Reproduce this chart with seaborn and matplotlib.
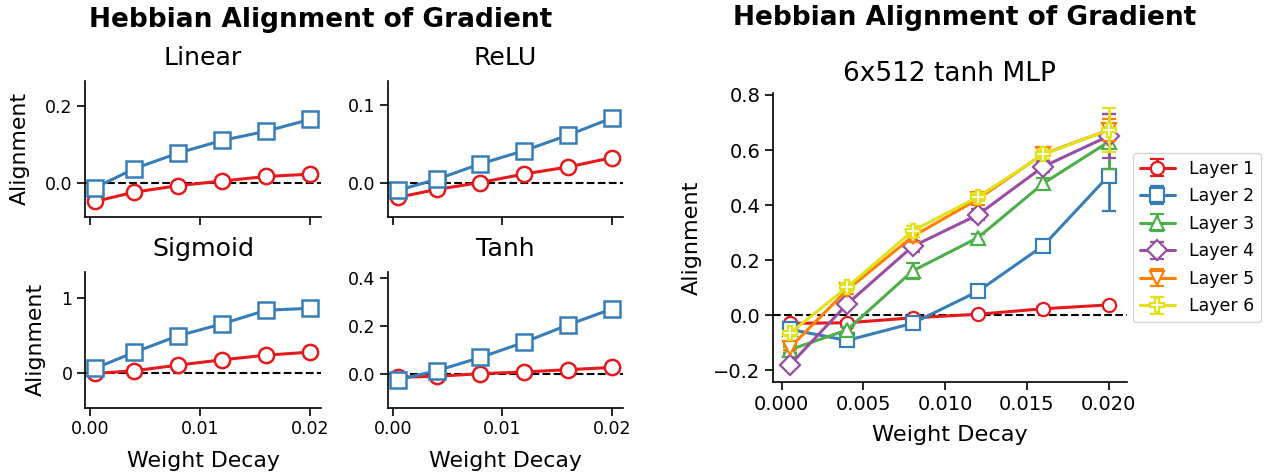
import numpy as np
import pandas as pd
import matplotlib
matplotlib.use("Agg")
import matplotlib.pyplot as plt
import seaborn as sns

sns.set_style("ticks")
plt.rcParams['font.family'] = ['DejaVu Sans']
for k in ["text.color", "axes.labelcolor", "xtick.color", "ytick.color", "axes.edgecolor"]:
    plt.rcParams[k] = "black"

# ---- data ----
wd = [0.0005, 0.004, 0.008, 0.012, 0.016, 0.020]

panels = ["Linear", "ReLU", "Sigmoid", "Tanh"]
hebb_red = {
    "Linear": [-0.049, -0.025, -0.008, 0.004, 0.016, 0.022],
    "ReLU": [-0.019, -0.009, 0.000, 0.011, 0.020, 0.032],
    "Sigmoid": [0.00, 0.035, 0.11, 0.18, 0.242, 0.282],
    "Tanh": [-0.015, -0.011, 0.000, 0.007, 0.017, 0.026],
}
hebb_blue = {
    "Linear": [-0.013, 0.036, 0.077, 0.110, 0.134, 0.165],
    "ReLU": [-0.010, 0.004, 0.024, 0.041, 0.061, 0.083],
    "Sigmoid": [0.07, 0.278, 0.498, 0.656, 0.837, 0.863],
    "Tanh": [-0.025, 0.012, 0.068, 0.132, 0.205, 0.272],
}
ylims = {
    "Linear": (-0.089, 0.266),
    "ReLU": (-0.044, 0.131),
    "Sigmoid": (-0.458, 1.348),
    "Tanh": (-0.144, 0.428),
}
yticks = {
    "Linear": [0.0, 0.2],
    "ReLU": [0.0, 0.1],
    "Sigmoid": [0, 1],
    "Tanh": [0.0, 0.2, 0.4],
}

layers = ["Layer 1", "Layer 2", "Layer 3", "Layer 4", "Layer 5", "Layer 6"]
layer_mean = [
    [-0.029, -0.027, -0.009, 0.004, 0.024, 0.038],
    [-0.051, -0.091, -0.029, 0.087, 0.253, 0.507],
    [-0.125, -0.053, 0.161, 0.282, 0.479, 0.630],
    [-0.180, 0.041, 0.250, 0.365, 0.540, 0.651],
    [-0.117, 0.092, 0.286, 0.422, 0.586, 0.673],
    [-0.065, 0.102, 0.306, 0.430, 0.584, 0.673],
]
layer_err = [
    [0.005, 0.005, 0.005, 0.005, 0.005, 0.005],
    [0.010, 0.010, 0.010, 0.015, 0.015, 0.130],
    [0.010, 0.010, 0.030, 0.015, 0.020, 0.100],
    [0.010, 0.010, 0.020, 0.020, 0.020, 0.080],
    [0.010, 0.015, 0.020, 0.020, 0.020, 0.040],
    [0.010, 0.015, 0.020, 0.015, 0.015, 0.080],
]

colors = ["#e41a1c", "#377eb8", "#4daf4a", "#984ea3", "#ff7f00", "#e2e21a"]
markers = ["o", "s", "^", "D", "v", "P"]

W, H = 1265, 474
fig = plt.figure(figsize=(W / 100, H / 100), dpi=100)

def box(l, r, t, b):
    return [l / W, 1 - b / H, (r - l) / W, (b - t) / H]

boxes = {
    "Linear": box(85, 321, 80.7, 216.7),
    "ReLU": box(387.7, 623, 80.7, 216.7),
    "Sigmoid": box(85, 321, 271.7, 408),
    "Tanh": box(387.7, 623, 271.7, 408),
}

for i, name in enumerate(panels):
    ax = fig.add_axes(boxes[name])
    df = pd.DataFrame({
        "wd": wd * 2,
        "val": hebb_red[name] + hebb_blue[name],
        "kind": ["a"] * len(wd) + ["b"] * len(wd),
    })
    ax.axhline(0, color="black", ls="--", lw=1.5, zorder=1)
    for kind, col, mk in [("a", colors[0], "o"), ("b", colors[1], "s")]:
        sub = df[df.kind == kind]
        sns.lineplot(data=sub, x="wd", y="val", ax=ax, color=col, lw=2.2,
                     marker=mk, markersize=11,
                     markerfacecolor="white", markeredgecolor=col,
                     markeredgewidth=1.8, zorder=3, legend=False)
    ax.set_ylim(*ylims[name])
    ax.set_yticks(yticks[name])
    ax.set_xlim(-0.00045, 0.021)
    ax.set_xticks([0.0, 0.01, 0.02])
    ax.set_title(name, fontsize=18.2, pad=11)
    ax.tick_params(labelsize=12.5, width=1.2, length=5.5)
    for s in ["left", "bottom"]:
        ax.spines[s].set_linewidth(1.2)
    sns.despine(ax=ax)
    if i >= 2:
        ax.set_xticklabels(["0.00", "0.01", "0.02"])
        ax.set_xlabel("Weight Decay", fontsize=15.8, labelpad=9)
    else:
        ax.set_xticklabels([])
        ax.set_xlabel("")
    if i % 2 == 0:
        ax.set_ylabel("Alignment", fontsize=15.8, labelpad=11)
    else:
        ax.set_ylabel("")

fig.text(321 / W, 1 - 20 / H, "Hebbian Alignment of Gradient", ha="center",
         va="center", fontsize=19, fontweight="bold")

# right panel
axr = fig.add_axes(box(772.7, 1126.7, 93.3, 382.3))
axr.axhline(0, color="black", ls="--", lw=1.5, zorder=1)
handles = []
for j, lab in enumerate(layers):
    h = axr.errorbar(wd, layer_mean[j], yerr=layer_err[j], color=colors[j],
                     marker=markers[j], markersize=10 if markers[j] != "o" else 9.5,
                     markerfacecolor="white", markeredgecolor=colors[j],
                     markeredgewidth=1.6, lw=2.2, capsize=5, elinewidth=2,
                     capthick=2, label=lab, zorder=3 + j)
    handles.append(h)
axr.set_xlim(-0.00055, 0.0211)
axr.set_ylim(-0.243, 0.806)
axr.set_xticks([0.0, 0.005, 0.01, 0.015, 0.02])
axr.set_xticklabels(["0.000", "0.005", "0.010", "0.015", "0.020"])
axr.set_yticks([-0.2, 0.0, 0.2, 0.4, 0.6, 0.8])
axr.set_yticklabels(["\u22120.2", "0.0", "0.2", "0.4", "0.6", "0.8"])
axr.tick_params(labelsize=14, width=1.2, length=5.5)
for s in ["left", "bottom"]:
    axr.spines[s].set_linewidth(1.2)
sns.despine(ax=axr)
axr.set_xlabel("Weight Decay", fontsize=16.1, labelpad=8)
axr.set_ylabel("Alignment", fontsize=16.1, labelpad=8)
axr.set_title("6x512 tanh MLP", fontsize=19, pad=8.5)
fig.text(965 / W, 1 - 18 / H, "Hebbian Alignment of Gradient", ha="center",
         va="center", fontsize=19, fontweight="bold")
leg = axr.legend(handles=handles, labels=layers, loc="center left",
                 bbox_to_anchor=(1133 / W, 1 - 237.5 / H),
                 bbox_transform=fig.transFigure, fontsize=12.5,
                 frameon=True, handlelength=2.0, borderpad=0.4,
                 labelspacing=0.55, handletextpad=0.8, borderaxespad=0)

fig.savefig("out.png", dpi=100)
